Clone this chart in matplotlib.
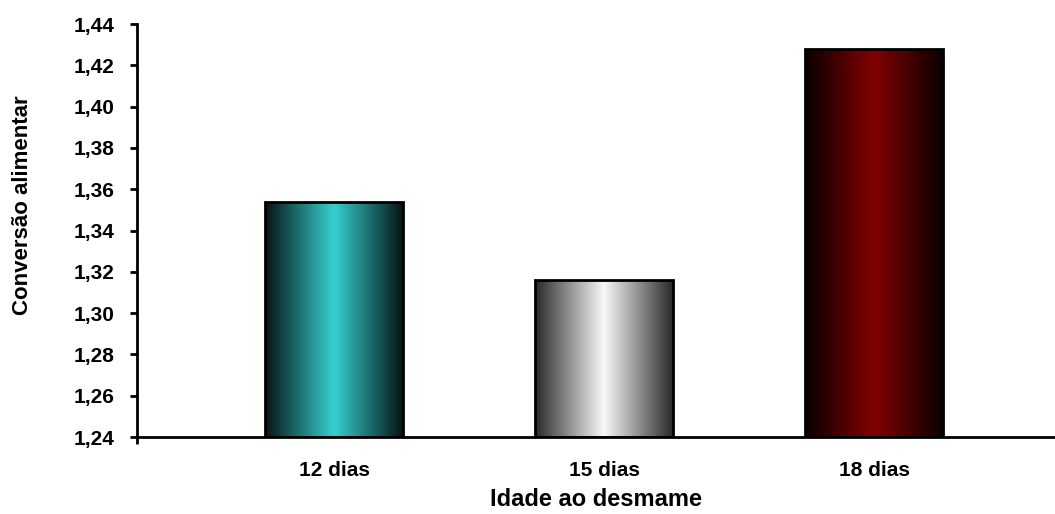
import matplotlib
matplotlib.use("Agg")
import matplotlib.pyplot as plt
import numpy as np
from matplotlib.colors import LinearSegmentedColormap

categories = ["12 dias", "15 dias", "18 dias"]
values = [1.354, 1.316, 1.428]
yticks = [1.24, 1.26, 1.28, 1.30, 1.32, 1.34, 1.36, 1.38, 1.40, 1.42, 1.44]
ytick_labels = ["1,24", "1,26", "1,28", "1,30", "1,32", "1,34", "1,36", "1,38", "1,40", "1,42", "1,44"]
edge_colors = ["#061414", "#2a2a2a", "#0a0000"]
center_colors = ["#36CFCF", "#F7F7F7", "#820000"]

plt.rcParams['font.family'] = ['Liberation Sans Narrow', 'Liberation Sans', 'DejaVu Sans']
plt.rcParams['font.weight'] = 'bold'

fig = plt.figure(figsize=(10.55, 5.14), dpi=100)
ax = fig.add_axes([0.1299, 0.1498, 0.8701, 0.8035])

ymin, ymax = 1.24, 1.44
x = np.arange(len(categories))
width = 0.51
bars = ax.bar(x, [v - ymin for v in values], width=width, bottom=ymin,
              facecolor='none', edgecolor='black', linewidth=2, zorder=3)

grad = np.linspace(0, 1, 256)
grad = 1 - np.abs(2 * grad - 1)
grad = grad[np.newaxis, :]
for b, ec, cc in zip(bars, edge_colors, center_colors):
    cmap = LinearSegmentedColormap.from_list("g", [ec, cc])
    x0, y0 = b.get_x(), b.get_y()
    w, h = b.get_width(), b.get_height()
    im = ax.imshow(grad, cmap=cmap, aspect='auto', extent=[x0, x0 + w, y0, y0 + h],
                   zorder=2, interpolation='bilinear')
    im.set_clip_path(b)

ax.set_xlim(-0.73, 2.67)
ax.set_ylim(ymin, ymax)
ax.set_yticks(yticks)
ax.set_yticklabels(ytick_labels)
ax.set_xticks(x)
ax.set_xticklabels(categories)
ax.set_xticks([-0.73], minor=True)
ax.tick_params(axis='x', which='major', length=0, pad=17, labelsize=15)
ax.tick_params(axis='x', which='minor', length=5, width=2, direction='out')
ax.tick_params(axis='y', length=5, width=2, direction='out', pad=11, labelsize=15)

for s in ['top', 'right']:
    ax.spines[s].set_visible(False)
for s in ['left', 'bottom']:
    ax.spines[s].set_linewidth(2)

ax.set_ylabel("Conversão alimentar", fontsize=16, fontweight='bold', va='center', ha='center')
ax.yaxis.set_label_coords(-0.125, 0.562)
ax.set_xlabel("Idade ao desmame", fontsize=17, fontweight='bold', va='center', ha='center')
ax.xaxis.set_label_coords(0.5, -0.1525)

fig.savefig("out.png", dpi=100)
